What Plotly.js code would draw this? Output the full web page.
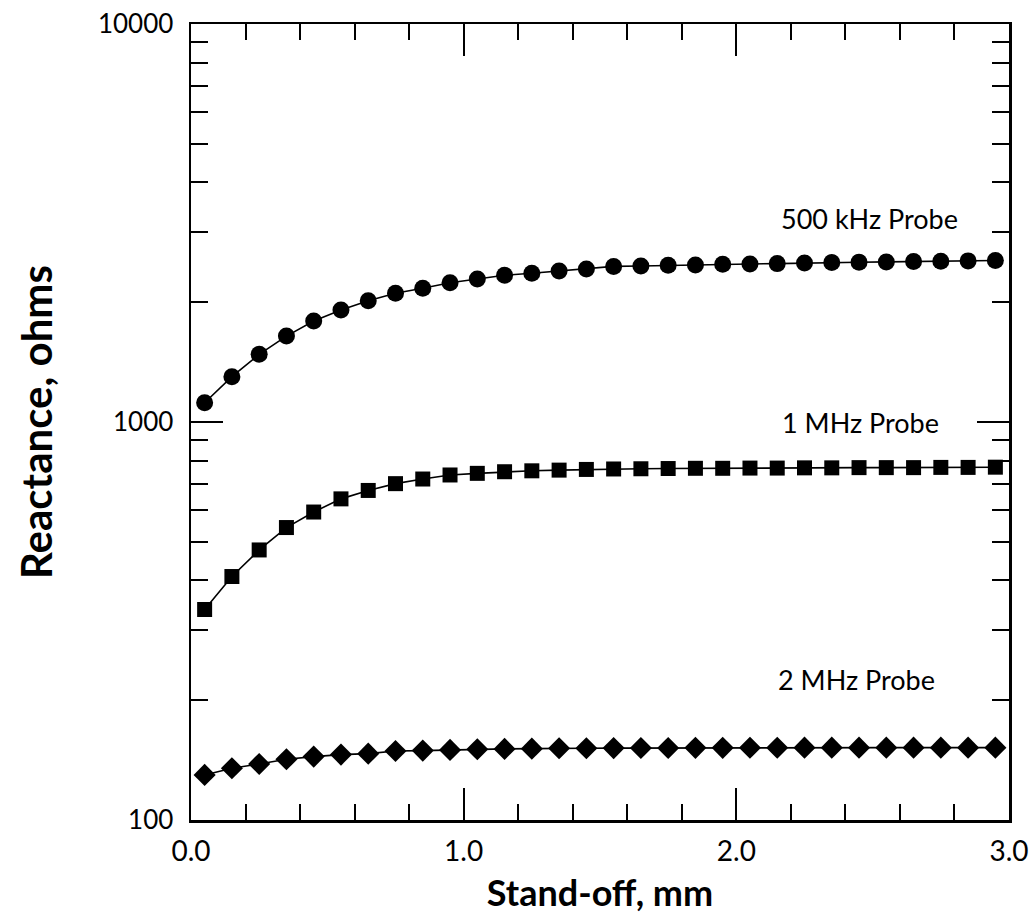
<!DOCTYPE html>
<html>
<head>
<meta charset="utf-8">
<script src="https://cdn.plot.ly/plotly-3.0.1.min.js"></script>
<style>html,body{margin:0;padding:0;background:#fff;}#chart{width:1034px;height:921px;}</style>
</head>
<body>
<div id="chart"></div>
<script>
const standoff = [0.05,0.15,0.25,0.35,0.45,0.55,0.65,0.75,0.85,0.95,1.05,1.15,1.25,1.35,1.45,
                  1.55,1.65,1.75,1.85,1.95,2.05,2.15,2.25,2.35,2.45,2.55,2.65,2.75,2.85,2.95];
const probe500k = [1118,1300,1479,1644,1794,1911,2017,2106,2168,2239,2288,2337,2364,2396,2424,
                   2460,2465,2475,2480,2490,2495,2500,2510,2515,2520,2525,2530,2535,2540,2545];
const probe1M = [338,409,477,543,594,641,673,700,719,736,743,750,754,757,760,
                 762,763,764,765,765,766,766,767,767,768,768,768,769,769,770];
const probe2M = [129.8,134.9,138.3,142.1,144.3,146.0,146.8,149.1,149.4,150.0,150.6,150.9,151.1,151.5,151.5,
                 151.6,151.7,151.7,151.8,151.8,151.9,151.9,152,152,152,152,152,152,152,152];
const seriesNames = ["500 kHz Probe","1 MHz Probe","2 MHz Probe"];
const xTickVals = [0,1,2,3];
const xTickText = ["0.0","1.0","2.0","3.0"];
const yTickVals = [100,1000,10000];
const yTickText = ["100","1000","10000"];

const FONT = "Lato, 'Open Sans', sans-serif";
function tr(y, sym, size){
  return {x: standoff, y: y, mode:'lines+markers', type:'scatter',
    line:{color:'#000', width:1.6},
    marker:{symbol:sym, size:size, color:'#000'}, showlegend:false, hoverinfo:'skip'};
}
const data = [tr(probe500k,'circle',17), tr(probe1M,'square',15), tr(probe2M,'diamond',17)];

const layout = {
  width:1034, height:921,
  margin:{l:191, r:25, t:24, b:101},
  paper_bgcolor:'#fff', plot_bgcolor:'#fff',
  font:{family:FONT, color:'#000', size:22},
  showlegend:false,
  xaxis:{
    range:[0,3], tickvals:xTickVals, ticktext:xTickText,
    ticks:'inside', ticklen:32, tickwidth:2, tickcolor:'#000',
    showline:true, linewidth:2.5, linecolor:'#000', mirror:'ticks',
    showgrid:false, zeroline:false,
    tickfont:{family:FONT, size:28, color:'#000'},
    ticklabelstandoff:5,
    minor:{dtick:0.2, tick0:0, ticks:'inside', ticklen:16, tickwidth:2, tickcolor:'#000', showgrid:false},
    title:{text:'<b>Stand-off, mm</b>', font:{family:FONT, size:36, color:'#000'}, standoff:15}
  },
  yaxis:{
    type:'log', range:[2,4], tickvals:yTickVals, ticktext:yTickText,
    ticks:'inside', ticklen:32, tickwidth:2, tickcolor:'#000',
    showline:true, linewidth:2.5, linecolor:'#000', mirror:'ticks',
    showgrid:false, zeroline:false,
    tickfont:{family:FONT, size:26, color:'#000'},
    ticklabelstandoff:10,
    minor:{dtick:'D1', ticks:'inside', ticklen:17, tickwidth:2, tickcolor:'#000', showgrid:false},
    title:{text:'<b>Reactance, ohms</b>', font:{family:FONT, size:42, color:'#000'}, standoff:32}
  },
  annotations:[
    {x:2.49, y:Math.log10(3254), xref:'x', yref:'y', text:seriesNames[0], showarrow:false, font:{family:FONT,size:27,color:'#000'}},
    {x:2.457, y:Math.log10(1000), xref:'x', yref:'y', text:seriesNames[1], showarrow:false, font:{family:FONT,size:27,color:'#000'}},
    {x:2.44, y:Math.log10(225), xref:'x', yref:'y', text:seriesNames[2], showarrow:false, font:{family:FONT,size:27,color:'#000'}}
  ]
};
Plotly.newPlot('chart', data, layout, {displayModeBar:false, staticPlot:true});
</script>
</body>
</html>
